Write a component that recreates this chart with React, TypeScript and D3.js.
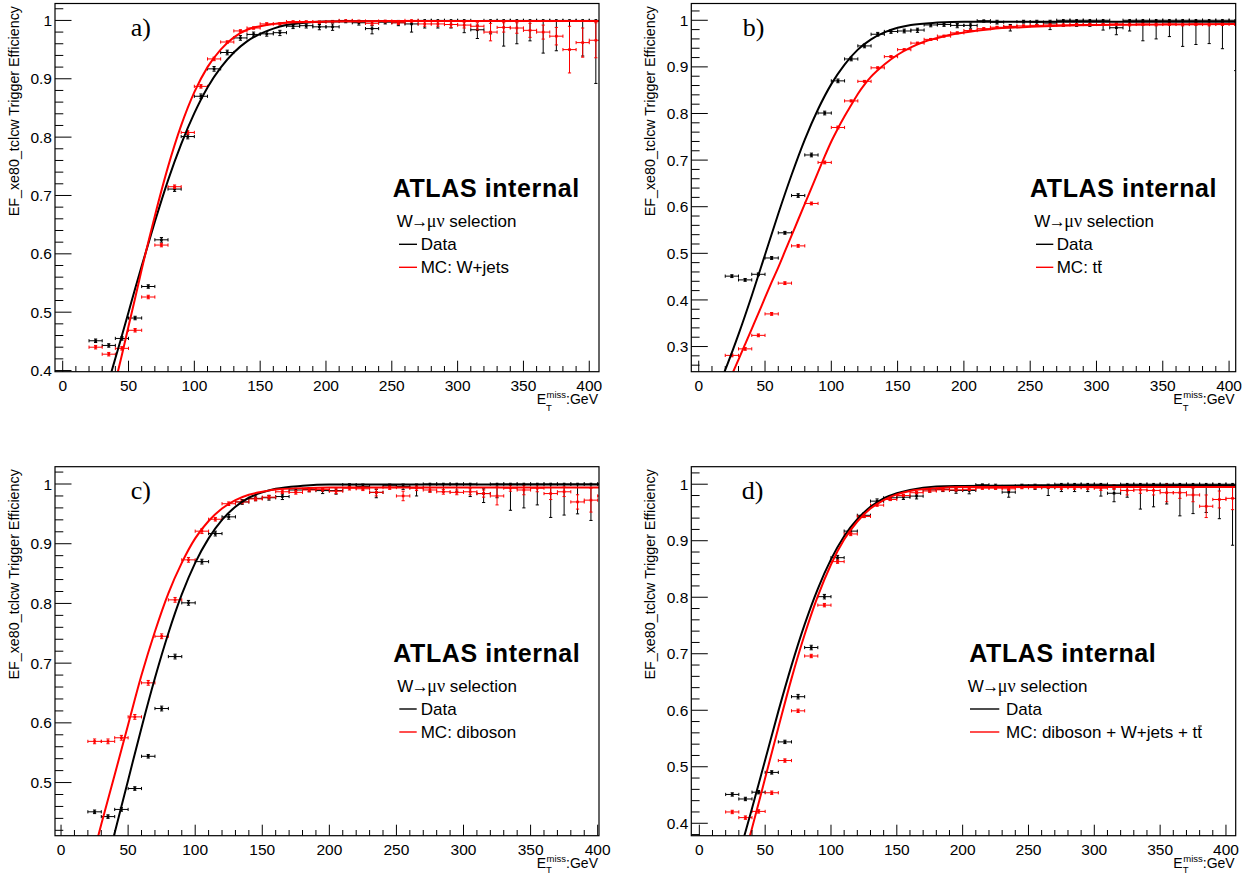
import React, { useLayoutEffect, useRef, useState } from "react";
import * as d3 from "d3";

// ---------------- DATA ----------------
const BIN_X = [25, 35, 45, 55, 65, 75, 85, 95, 105, 115, 125, 135, 145, 155, 165, 175, 185, 195, 205, 215, 225, 235, 245, 255, 265, 275, 285, 295, 305, 315, 325, 335, 345, 355, 365, 375, 385, 395, 405];
const BIN_HALF_WIDTH = 5;

const DATA_EFF = [0.451, 0.443, 0.455, 0.490, 0.544, 0.624, 0.711, 0.801, 0.870, 0.917, 0.945, 0.970, 0.976, 0.977, 0.979, 0.990, 0.991, 0.989, 0.989, 0.999, 0.996, 0.986, 0.997, 0.996, 0.994, 1.0, 1.0, 1.0, 1.0, 0.984, 1.0, 1.0, 1.0, 1.0, 1.0, 1.0, 1.0, 1.0, 1.0];
const DATA_ERR_LO = [0.003, 0.003, 0.003, 0.003, 0.003, 0.004, 0.004, 0.004, 0.004, 0.004, 0.004, 0.004, 0.004, 0.004, 0.005, 0.004, 0.004, 0.005, 0.006, 0.003, 0.004, 0.009, 0.003, 0.005, 0.014, 0.013, 0.013, 0.013, 0.021, 0.015, 0.023, 0.044, 0.040, 0.035, 0.056, 0.052, 0.050, 0.061, 0.108];
const DATA_ERR_HI = [0.003, 0.003, 0.003, 0.003, 0.003, 0.004, 0.004, 0.004, 0.004, 0.004, 0.004, 0.004, 0.004, 0.004, 0.004, 0.003, 0.003, 0.004, 0.005, 0.001, 0.004, 0.005, 0.003, 0.004, 0.006, 0, 0, 0, 0, 0.008, 0, 0, 0, 0, 0, 0, 0, 0, 0];

const MC_WJETS_EFF = [0.440, 0.428, 0.438, 0.469, 0.526, 0.615, 0.715, 0.808, 0.887, 0.934, 0.963, 0.982, 0.987, 0.994, 0.994, 0.998, 0.998, 0.997, 0.998, 1.0, 0.999, 0.995, 0.999, 0.996, 1.0, 0.994, 0.994, 0.993, 0.992, 0.990, 0.980, 0.988, 0.987, 0.983, 0.980, 0.973, 0.950, 0.962, 0.966];
const MC_WJETS_ERR = [0.003, 0.003, 0.003, 0.003, 0.003, 0.003, 0.003, 0.003, 0.003, 0.003, 0.002, 0.002, 0.002, 0.002, 0.002, 0.001, 0.001, 0.002, 0.002, 0.001, 0.002, 0.003, 0.002, 0.003, 0.003, 0.004, 0.004, 0.005, 0.005, 0.006, 0.015, 0.008, 0.009, 0.012, 0.012, 0.015, 0.040, 0.025, 0.030];

const MC_TTBAR_EFF = [0.281, 0.295, 0.324, 0.370, 0.436, 0.516, 0.607, 0.695, 0.770, 0.827, 0.869, 0.898, 0.922, 0.937, 0.951, 0.959, 0.966, 0.973, 0.978, 0.982, 0.985, 0.987, 0.988, 0.989, 0.990, 0.990, 0.991, 0.991, 0.991, 0.992, 0.991, 0.992, 0.991, 0.992, 0.991, 0.992, 0.991, 0.992, 0.992];
const MC_TTBAR_ERR = [0.003, 0.003, 0.003, 0.003, 0.003, 0.003, 0.003, 0.003, 0.003, 0.002, 0.002, 0.002, 0.002, 0.002, 0.002, 0.002, 0.002, 0.002, 0.002, 0.002, 0.002, 0.002, 0.002, 0.002, 0.002, 0.002, 0.002, 0.002, 0.002, 0.002, 0.003, 0.003, 0.003, 0.003, 0.003, 0.003, 0.003, 0.003, 0.003];

const MC_DIBOSON_EFF = [0.569, 0.569, 0.575, 0.610, 0.667, 0.745, 0.806, 0.873, 0.921, 0.941, 0.967, 0.970, 0.975, 0.978, 0.987, 0.986, 0.990, 0.991, 0.988, 0.993, 0.992, 0.986, 0.994, 0.980, 0.993, 0.990, 0.987, 0.986, 0.987, 0.984, 0.980, 0.993, 0.990, 0.993, 0.984, 0.987, 0.970, 0.973, 0.980];
const MC_DIBOSON_ERR = [0.004, 0.004, 0.004, 0.004, 0.004, 0.004, 0.004, 0.004, 0.004, 0.003, 0.003, 0.003, 0.003, 0.003, 0.003, 0.003, 0.003, 0.003, 0.004, 0.003, 0.003, 0.006, 0.003, 0.008, 0.004, 0.004, 0.004, 0.004, 0.005, 0.006, 0.015, 0.005, 0.008, 0.006, 0.010, 0.008, 0.012, 0.020, 0.020];

const MC_ALL_EFF = [0.420, 0.410, 0.421, 0.454, 0.511, 0.599, 0.696, 0.786, 0.863, 0.912, 0.943, 0.963, 0.973, 0.980, 0.985, 0.988, 0.990, 0.990, 0.991, 0.993, 0.993, 0.992, 0.994, 0.994, 0.995, 0.994, 0.994, 0.994, 0.993, 0.995, 0.989, 0.990, 0.989, 0.985, 0.985, 0.981, 0.961, 0.973, 0.975];
const MC_ALL_ERR = [0.003, 0.003, 0.003, 0.003, 0.003, 0.003, 0.003, 0.003, 0.003, 0.003, 0.002, 0.002, 0.002, 0.002, 0.002, 0.002, 0.002, 0.002, 0.002, 0.002, 0.002, 0.003, 0.002, 0.002, 0.002, 0.003, 0.003, 0.003, 0.004, 0.004, 0.008, 0.006, 0.008, 0.016, 0.010, 0.012, 0.020, 0.015, 0.020];

// fitted turn-on curves
const FIT_A_DATA_X = [30, 35, 40, 45, 50, 55, 60, 70, 80, 90, 100, 110, 120, 130, 140, 150, 160, 170, 180, 200, 250, 300, 350, 410];
const FIT_A_DATA_Y = [0.345, 0.382, 0.421, 0.460, 0.500, 0.540, 0.579, 0.655, 0.726, 0.788, 0.841, 0.885, 0.919, 0.945, 0.964, 0.977, 0.986, 0.992, 0.995, 0.998, 0.999, 0.999, 0.999, 0.999];
const FIT_A_MC_X = [35, 40, 45, 50, 55, 60, 70, 80, 90, 100, 110, 120, 130, 140, 150, 160, 170, 180, 200, 250, 300, 350, 410];
const FIT_A_MC_Y = [0.335, 0.380, 0.427, 0.476, 0.524, 0.573, 0.665, 0.749, 0.820, 0.877, 0.920, 0.950, 0.971, 0.984, 0.990, 0.994, 0.996, 0.997, 0.998, 0.999, 0.999, 0.999, 0.999];

const FIT_B_DATA_X = [10, 20, 30, 40, 50, 60, 70, 80, 90, 100, 110, 120, 130, 140, 150, 160, 180, 200, 250, 300, 350, 410];
const FIT_B_DATA_Y = [0.185, 0.250, 0.326, 0.409, 0.497, 0.585, 0.668, 0.744, 0.809, 0.863, 0.905, 0.937, 0.959, 0.974, 0.984, 0.990, 0.995, 0.997, 0.997, 0.997, 0.997, 0.997];
const FIT_B_MC_X = [20, 26, 30, 35, 40, 45, 50, 55, 60, 65, 70, 75, 80, 85, 90, 95, 100, 105, 110, 115, 120, 125, 130, 140, 150, 160, 170, 180, 190, 200, 220, 250, 300, 350, 410];
const FIT_B_MC_Y = [0.205, 0.246, 0.272, 0.305, 0.338, 0.371, 0.405, 0.438, 0.470, 0.504, 0.538, 0.572, 0.606, 0.640, 0.674, 0.708, 0.740, 0.768, 0.794, 0.818, 0.842, 0.862, 0.879, 0.905, 0.926, 0.942, 0.954, 0.962, 0.969, 0.974, 0.981, 0.986, 0.990, 0.991, 0.992];

const FIT_C_DATA_X = [30, 40, 45, 50, 60, 70, 80, 90, 100, 110, 120, 130, 140, 150, 160, 180, 200, 250, 300, 350, 410];
const FIT_C_DATA_Y = [0.333, 0.416, 0.460, 0.504, 0.592, 0.675, 0.750, 0.815, 0.868, 0.909, 0.940, 0.962, 0.977, 0.986, 0.992, 0.997, 0.999, 0.999, 0.999, 0.999, 0.999];
const FIT_C_MC_X = [20, 30, 40, 50, 60, 70, 80, 90, 100, 110, 120, 130, 140, 150, 160, 180, 200, 250, 300, 350, 410];
const FIT_C_MC_Y = [0.345, 0.430, 0.513, 0.597, 0.680, 0.753, 0.817, 0.868, 0.909, 0.938, 0.959, 0.973, 0.982, 0.987, 0.991, 0.993, 0.994, 0.994, 0.994, 0.994, 0.994];

const FIT_D_DATA_X = [30, 40, 50, 60, 70, 80, 90, 100, 110, 120, 130, 140, 150, 160, 180, 200, 250, 300, 350, 410];
const FIT_D_DATA_Y = [0.343, 0.426, 0.512, 0.598, 0.679, 0.752, 0.815, 0.867, 0.908, 0.938, 0.960, 0.975, 0.984, 0.990, 0.996, 0.997, 0.998, 0.998, 0.998, 0.998];
const FIT_D_MC_X = [30, 40, 50, 60, 70, 80, 90, 100, 110, 120, 130, 140, 150, 160, 180, 200, 250, 300, 350, 410];
const FIT_D_MC_Y = [0.307, 0.391, 0.480, 0.569, 0.656, 0.734, 0.802, 0.858, 0.902, 0.934, 0.957, 0.972, 0.982, 0.988, 0.993, 0.995, 0.995, 0.995, 0.995, 0.995];

const Y_TITLE = "EF_xe80_tclcw Trigger Efficiency";
const LEGEND_SELECTION = ["W", "\u2192", "\u03bc\u03bd", " selection"];
const LEGEND_DATA = "Data";
const ATLAS_LABEL = "ATLAS internal";

// ---------------- LAYOUT ----------------
type PanelSpec = {
  id: string;
  letter: string;
  left: number; right: number; top: number; bottom: number;
  xDomain: [number, number];
  yDomain: [number, number];
  mcEff: number[]; mcErr: number[];
  fitDataX: number[]; fitDataY: number[];
  fitMcX: number[]; fitMcY: number[];
  mcLabel: string; mcOverline: boolean;
  letterX: number; letterY: number;
  atlasX: number; atlasY: number;
  selX: number; lineX1: number; lineX2: number; legTextX: number;
  subOffset: number;
};

const PANELS: PanelSpec[] = [
  {
    id: "a", letter: "a)", left: 55, right: 599, top: 3.5, bottom: 371.7,
    xDomain: [-5.85, 407.4], yDomain: [0.398, 1.029],
    mcEff: MC_WJETS_EFF, mcErr: MC_WJETS_ERR,
    fitDataX: FIT_A_DATA_X, fitDataY: FIT_A_DATA_Y, fitMcX: FIT_A_MC_X, fitMcY: FIT_A_MC_Y,
    mcLabel: "MC: W+jets", mcOverline: false,
    letterX: 130.7, letterY: 36, atlasX: 392.7, atlasY: 197,
    selX: 396.7, lineX1: 399, lineX2: 417, legTextX: 420.7, subOffset: 39.5,
  },
  {
    id: "b", letter: "b)", left: 691.3, right: 1235.7, top: 3.5, bottom: 371.7,
    xDomain: [-5.6, 405], yDomain: [0.246, 1.036],
    mcEff: MC_TTBAR_EFF, mcErr: MC_TTBAR_ERR,
    fitDataX: FIT_B_DATA_X, fitDataY: FIT_B_DATA_Y, fitMcX: FIT_B_MC_X, fitMcY: FIT_B_MC_Y,
    mcLabel: "MC: tt", mcOverline: true,
    letterX: 742.7, letterY: 36, atlasX: 1030, atlasY: 197,
    selX: 1034.3, lineX1: 1036, lineX2: 1053.3, legTextX: 1056.7, subOffset: 39.5,
  },
  {
    id: "c", letter: "c)", left: 55, right: 599, top: 466.7, bottom: 835.7,
    xDomain: [-4.5, 401], yDomain: [0.411, 1.029],
    mcEff: MC_DIBOSON_EFF, mcErr: MC_DIBOSON_ERR,
    fitDataX: FIT_C_DATA_X, fitDataY: FIT_C_DATA_Y, fitMcX: FIT_C_MC_X, fitMcY: FIT_C_MC_Y,
    mcLabel: "MC: diboson", mcOverline: false,
    letterX: 130.7, letterY: 499.3, atlasX: 393.3, atlasY: 661.7,
    selX: 397.3, lineX1: 399.3, lineX2: 416.7, legTextX: 420.7, subOffset: 37.3,
  },
  {
    id: "d", letter: "d)", left: 691.3, right: 1235.7, top: 466.7, bottom: 835.7,
    xDomain: [-6.1, 407.4], yDomain: [0.378, 1.031],
    mcEff: MC_ALL_EFF, mcErr: MC_ALL_ERR,
    fitDataX: FIT_D_DATA_X, fitDataY: FIT_D_DATA_Y, fitMcX: FIT_D_MC_X, fitMcY: FIT_D_MC_Y,
    mcLabel: "MC: diboson + W+jets + tt", mcOverline: true,
    letterX: 741.7, letterY: 499.3, atlasX: 969.3, atlasY: 661.7,
    selX: 967.7, lineX1: 970, lineX2: 999.3, legTextX: 1006, subOffset: 37.3,
  },
];

const SANS = "'Liberation Sans', Arial, Helvetica, sans-serif";
const SERIF = "'Liberation Serif', 'Times New Roman', serif";

function OverlineText(props: { x: number; y: number; text: string; fill: string; fontSize: number; overline: boolean }) {
  const { x, y, text, fill, fontSize, overline } = props;
  const ref = useRef<SVGTextElement>(null);
  const [bar, setBar] = useState<null | { x1: number; x2: number }>(null);
  useLayoutEffect(() => {
    if (!overline || !ref.current) return;
    try {
      const r = ref.current.getExtentOfChar(text.length - 1);
      setBar({ x1: r.x + 0.8, x2: r.x + r.width - 0.3 });
    } catch (e) {
      /* ignore */
    }
  }, [text, overline]);
  return (
    <g>
      <text ref={ref} x={x} y={y} fill={fill} fontSize={fontSize} fontFamily={SANS}>{text}</text>
      {overline && bar && <line x1={bar.x1} x2={bar.x2} y1={y - 12} y2={y - 12} stroke={fill} strokeWidth={1.1} />}
    </g>
  );
}

function ErrorPoints(props: { xs: number[]; ys: number[]; lo: number[]; hi: number[]; color: string; x: any; y: any }) {
  const { xs, ys, lo, hi, color, x, y } = props;
  const cap = 1.6;
  return (
    <g stroke={color} strokeWidth={1} fill={color}>
      {xs.map((xv, i) => {
        const yv = ys[i];
        const cx = x(xv);
        const cy = y(yv);
        const xl = x(xv - BIN_HALF_WIDTH);
        const xr = x(xv + BIN_HALF_WIDTH);
        const yl = y(yv - lo[i]);
        const yh = y(yv + hi[i]);
        return (
          <g key={i}>
            <line x1={xl} x2={xr} y1={cy} y2={cy} />
            <line x1={xl} x2={xl} y1={cy - cap} y2={cy + cap} />
            <line x1={xr} x2={xr} y1={cy - cap} y2={cy + cap} />
            <line x1={cx} x2={cx} y1={yl} y2={yh} />
            {lo[i] > 0 && <line x1={cx - cap} x2={cx + cap} y1={yl} y2={yl} />}
            {hi[i] > 0 && <line x1={cx - cap} x2={cx + cap} y1={yh} y2={yh} />}
            <rect x={cx - 1.3} y={cy - 1.3} width={2.6} height={2.6} stroke="none" />
          </g>
        );
      })}
    </g>
  );
}

function Panel({ p }: { p: PanelSpec }) {
  const x = d3.scaleLinear().domain(p.xDomain).range([p.left, p.right]);
  const y = d3.scaleLinear().domain(p.yDomain).range([p.bottom, p.top]);

  const yTicks: { v: number; major: boolean }[] = [];
  for (let k = Math.ceil(p.yDomain[0] * 50 - 1e-6); k <= Math.floor(p.yDomain[1] * 50 + 1e-6); k++) {
    yTicks.push({ v: k / 50, major: k % 5 === 0 });
  }
  const xTicks: { v: number; major: boolean }[] = [];
  for (let k = Math.ceil(p.xDomain[0] / 10); k <= Math.floor(p.xDomain[1] / 10); k++) {
    xTicks.push({ v: k * 10, major: k % 5 === 0 });
  }

  const line = d3.line<[number, number]>().x((d) => x(d[0])).y((d) => y(d[1])).curve(d3.curveMonotoneX);
  const dataFit = line(p.fitDataX.map((v, i) => [v, p.fitDataY[i]] as [number, number])) || "";
  const mcFit = line(p.fitMcX.map((v, i) => [v, p.fitMcY[i]] as [number, number])) || "";

  const mcLo = p.mcErr;
  const mcHi = p.mcErr.map((e, i) => Math.max(0, Math.min(e, 1 - p.mcEff[i])));
  const clipId = "clip-" + p.id;

  const legY0 = p.atlasY + 30; // selection baseline
  const dataY = legY0 + 23.3;
  const mcY = dataY + 23;

  return (
    <g>
      <defs>
        <clipPath id={clipId}>
          <rect x={p.left} y={p.top} width={p.right - p.left} height={p.bottom - p.top} />
        </clipPath>
      </defs>
      <g clipPath={`url(#${clipId})`}>
        <ErrorPoints xs={BIN_X} ys={DATA_EFF} lo={DATA_ERR_LO} hi={DATA_ERR_HI} color="#000" x={x} y={y} />
        <ErrorPoints xs={BIN_X} ys={p.mcEff} lo={mcLo} hi={mcHi} color="#ff0000" x={x} y={y} />
        <path d={dataFit} fill="none" stroke="#000" strokeWidth={2} />
        <path d={mcFit} fill="none" stroke="#ff0000" strokeWidth={2} />
      </g>
      {/* frame */}
      <rect x={p.left} y={p.top} width={p.right - p.left} height={p.bottom - p.top} fill="none" stroke="#000" strokeWidth={1.2} />
      {/* y ticks */}
      {yTicks.map((t, i) => (
        <line key={"yt" + i} x1={p.left} x2={p.left + (t.major ? 16.5 : 8.3)} y1={y(t.v)} y2={y(t.v)} stroke="#000" strokeWidth={1} />
      ))}
      {yTicks.filter((t) => t.major).map((t, i) => (
        <text key={"yl" + i} x={p.left - 3} y={y(t.v)} dy="0.36em" textAnchor="end" fontSize={15.5} fontFamily={SANS}>
          {Math.abs(t.v - 1) < 1e-9 ? "1" : t.v.toFixed(1)}
        </text>
      ))}
      {/* x ticks */}
      {xTicks.map((t, i) => (
        <line key={"xt" + i} x1={x(t.v)} x2={x(t.v)} y1={p.bottom} y2={p.bottom - (t.major ? 11 : 5.7)} stroke="#000" strokeWidth={1} />
      ))}
      {xTicks.filter((t) => t.major).map((t, i) => (
        <text key={"xl" + i} x={x(t.v)} y={p.bottom + 19.3} textAnchor="middle" fontSize={15.5} fontFamily={SANS}>
          {t.v}
        </text>
      ))}
      {/* axis titles */}
      <text transform={`translate(${p.left - 36},${p.top + 2.5}) rotate(-90)`} textAnchor="end" fontSize={14.3} fontFamily={SANS}>
        {Y_TITLE}
      </text>
      <g fontFamily={SANS}>
        <text x={p.right - 1} y={p.bottom + 32.3} textAnchor="end" fontSize={14}>:GeV</text>
        <text x={p.right - 1 - 31.9} y={p.bottom + 26.3} textAnchor="end" fontSize={9.5}>miss</text>
        <text x={p.right - 1 - 52} y={p.bottom + p.subOffset} textAnchor="start" fontSize={9.5}>T</text>
        <text x={p.right - 1 - 52} y={p.bottom + 32.3} textAnchor="end" fontSize={14}>E</text>
      </g>
      {/* panel letter */}
      <text x={p.letterX} y={p.letterY} fontSize={26} fontFamily={SERIF}>{p.letter}</text>
      {/* ATLAS label + legend */}
      <text x={p.atlasX} y={p.atlasY} fontSize={25} fontWeight="bold" fontFamily={SANS} letterSpacing={0.6}>{ATLAS_LABEL}</text>
      <text x={p.selX} y={legY0} fontSize={17} fontFamily={SANS}>
        <tspan>{LEGEND_SELECTION[0]}</tspan>
        <tspan dx={-1.5}>{LEGEND_SELECTION[1]}</tspan>
        <tspan dx={-1.5} fontFamily={SERIF} fontSize={18}>{LEGEND_SELECTION[2]}</tspan>
        <tspan>{LEGEND_SELECTION[3]}</tspan>
      </text>
      <line x1={p.lineX1} x2={p.lineX2} y1={dataY - 6} y2={dataY - 6} stroke="#000" strokeWidth={1.4} />
      <text x={p.legTextX} y={dataY} fontSize={17} fontFamily={SANS}>{LEGEND_DATA}</text>
      <line x1={p.lineX1} x2={p.lineX2} y1={mcY - 6} y2={mcY - 6} stroke="#ff0000" strokeWidth={1.4} />
      <OverlineText x={p.legTextX} y={mcY} text={p.mcLabel} fill="#000" fontSize={17} overline={p.mcOverline} />
    </g>
  );
}

export default function App() {
  return (
    <svg width={1253} height={875} style={{ position: "absolute", left: 0, top: 0, background: "#fff" }}>
      <rect x={0} y={0} width={1253} height={875} fill="#fff" />
      {PANELS.map((p) => (
        <Panel key={p.id} p={p} />
      ))}
    </svg>
  );
}
